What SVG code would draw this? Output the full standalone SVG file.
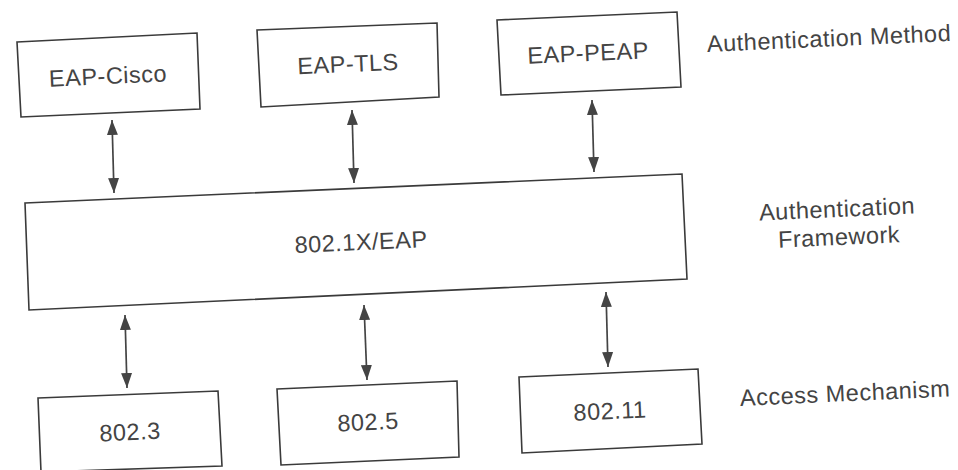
<svg xmlns="http://www.w3.org/2000/svg" width="958" height="470" viewBox="0 0 958 470">
<style>
.box{fill:#fff;stroke:#3a3a3a;stroke-width:1.6;stroke-linejoin:miter}
.t{font-family:"Liberation Sans",Arial,sans-serif;font-size:23.5px;letter-spacing:0.5px;fill:#444;text-anchor:middle;dominant-baseline:central}
.l{font-family:"Liberation Sans",Arial,sans-serif;font-size:23.5px;letter-spacing:0.5px;fill:#444;text-anchor:start;dominant-baseline:central}
.c{stroke:#444;stroke-width:1.7;fill:none;marker-start:url(#ah);marker-end:url(#ah)}
</style>
<defs>
<marker id="ah" viewBox="0 0 15 11" markerWidth="15" markerHeight="11" refX="15" refY="5.5" orient="auto-start-reverse" markerUnits="userSpaceOnUse">
<path d="M0,0 L15,5.5 L0,11 z" fill="#444"/>
</marker>
</defs>
<rect width="958" height="470" fill="#fff"/>
<g id="connectors">
<line class="c" x1="112" y1="120" x2="114" y2="193"/>
<line class="c" x1="352" y1="110" x2="354" y2="183"/>
<line class="c" x1="592" y1="100" x2="594" y2="172"/>
<line class="c" x1="125" y1="315" x2="127" y2="388"/>
<line class="c" x1="364" y1="305" x2="367" y2="380"/>
<line class="c" x1="606" y1="292" x2="608" y2="367"/>
</g>
<g id="eap-cisco">
<polygon class="box" points="17,42 197,33 200,109 21,117"/>
<text class="t" x="108" y="76" transform="rotate(-2.6 108 76)">EAP-Cisco</text>
</g>
<g id="eap-tls">
<polygon class="box" points="257,30 437,23 439,97 261,107"/>
<text class="t" x="348" y="64" transform="rotate(-2.6 348 64)">EAP-TLS</text>
</g>
<g id="eap-peap">
<polygon class="box" points="497,20 677,12 681,87 501,95"/>
<text class="t" x="588" y="53" transform="rotate(-2.6 588 53)">EAP-PEAP</text>
</g>
<g id="label-method">
<text class="l" x="707" y="44" transform="rotate(-2.6 707 44)">Authentication Method</text>
</g>
<g id="eap-8021x">
<polygon class="box" points="25,203 682,174 687,279 29,310"/>
<text class="t" x="361" y="242" transform="rotate(-2.6 361 242)">802.1X/EAP</text>
</g>
<g id="label-framework">
<text class="t" x="837" y="209" transform="rotate(-2.6 837 209)">Authentication</text>
<text class="t" x="839" y="237" transform="rotate(-2.6 839 237)">Framework</text>
</g>
<g id="n8023">
<polygon class="box" points="38,398 218,391 222,466 41,472"/>
<text class="t" x="130" y="432" transform="rotate(-2.6 130 432)">802.3</text>
</g>
<g id="n8025">
<polygon class="box" points="277,389 457,381 459,457 281,465"/>
<text class="t" x="368" y="422" transform="rotate(-2.6 368 422)">802.5</text>
</g>
<g id="n80211">
<polygon class="box" points="519,377 698,369 702,444 522,453"/>
<text class="t" x="610" y="411" transform="rotate(-2.6 610 411)">802.11</text>
</g>
<g id="label-access">
<text class="l" x="740" y="398" transform="rotate(-2.6 740 398)">Access Mechanism</text>
</g>
</svg>
